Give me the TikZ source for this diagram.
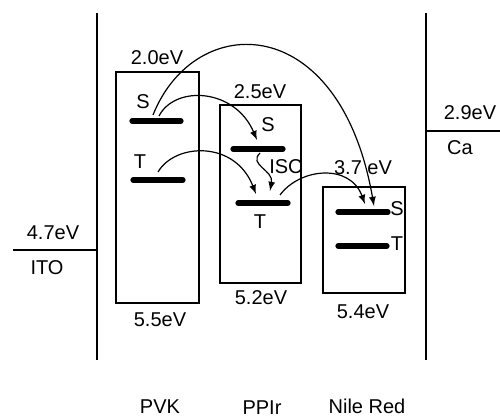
\documentclass[tikz,border=0pt]{standalone}
\usepackage{fontspec}
\setmainfont{Liberation Sans}
\usetikzlibrary{arrows,calc}

\tikzset{
  electrode/.style={line width=1pt},
  layerbox/.style={line width=0.7pt},
  level/.style={line width=2.6pt,line cap=round},
  hop/.style={-latex,line width=0.6pt},
  lbl/.style={font=\fontsize{10}{12}\selectfont,inner sep=0pt}
}

\begin{document}
\begin{tikzpicture}[x=0.5pt,y=-0.5pt]
                    \useasboundingbox (0,0) rectangle (500,417);
                    % electrodes
                    \draw[electrode] (97,13) -- (97,360);
                    \draw[electrode] (426,13) -- (426,360);
                    \draw[electrode] (13,250) -- (97,250);
                    \draw[electrode] (426,131) -- (500,131);
                    \node[lbl] (ito) at (47,268) {ITO};
                    \node[lbl] (itoE) at (53,233) {4.7eV};
                    \node[lbl] (ca) at (460,148) {Ca};
                    \node[lbl] (caE) at (470,113) {2.9eV};
                    % layers
                    \draw[layerbox] (116,72) rectangle (199,303);
                    \draw[layerbox] (220,105) rectangle (301,283);
                    \draw[layerbox] (323,187) rectangle (405,293);
                    \node[lbl] (pvkL) at (157,58) {2.0eV};
                    \node[lbl] (pvkH) at (160,320) {5.5eV};
                    \node[lbl] (ppirL) at (260,92) {2.5eV};
                    \node[lbl] (ppirH) at (261,298) {5.2eV};
                    \node[lbl] (nrL) at (363,168) {3.7 eV};
                    \node[lbl] (nrH) at (363,312) {5.4eV};
                    \node[lbl] (pvk) at (160,407) {PVK};
                    \node[lbl] (ppir) at (262,408) {PPIr};
                    \node[lbl] (nr) at (367,406) {Nile Red};
                    % singlet and triplet levels
                    \draw[level] (132,121) -- (181,121);
                    \draw[level] (133,180) -- (183,180);
                    \draw[level] (233,149) -- (283,149);
                    \draw[level] (238,203) -- (288,203);
                    \draw[level] (338,212) -- (388,212);
                    \draw[level] (338,246) -- (387,246);
                    \node[lbl] (pvkS) at (143,102) {S};
                    \node[lbl] (pvkT) at (140,162) {T};
                    \node[lbl] (ppirS) at (268,125) {S};
                    \node[lbl] (ppirT) at (260,222) {T};
                    \node[lbl] (nrS) at (397,209) {S};
                    \node[lbl] (nrT) at (397,244) {T};
                    \node[lbl] (isc) at (286,167) {ISC};
                    % transfer arrows
                    \coordinate (a1) at (153,115);
                    \coordinate (a2) at (159,116);
                    \coordinate (a3) at (158,172);
                    \coordinate (b1) at (257,140);
                    \coordinate (b2) at (260,153);
                    \coordinate (b3) at (256,194);
                    \coordinate (b4) at (270,191);
                    \coordinate (b5) at (280,195);
                    \coordinate (c1) at (374,206);
                    \coordinate (c2) at (365,204);
                    \draw[hop] (a1) .. controls (195,10) and (340,10) .. (c1);
                    \draw[hop] (a2) .. controls (175,85) and (235,88) .. (b1);
                    \draw[hop] (a3) .. controls (175,143) and (235,140) .. (b3);
                    \draw[hop] (b2) .. controls (248,165) and (274,170) .. (b4);
                    \draw[hop] (b5) .. controls (300,168) and (350,163) .. (c2);
                \end{tikzpicture}
\end{document}
